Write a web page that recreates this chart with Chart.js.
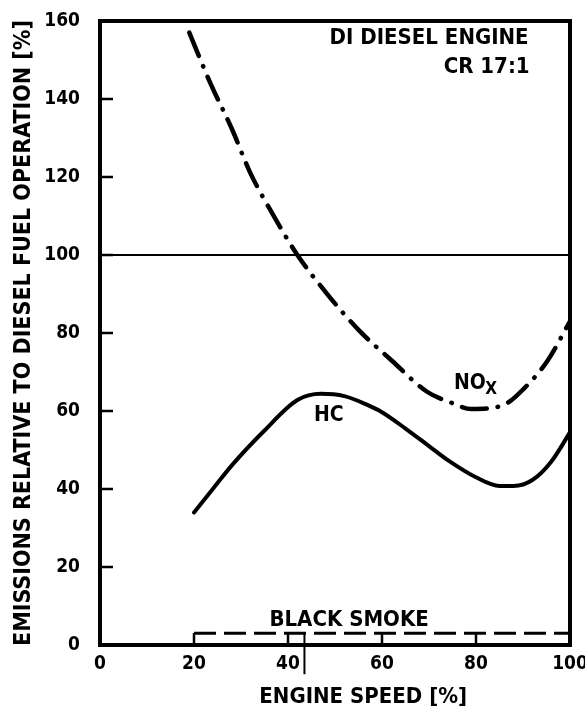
<!DOCTYPE html>
<html>
<head>
<meta charset="utf-8">
<script src="https://cdn.jsdelivr.net/npm/chart.js@4/dist/chart.umd.min.js"></script>
<style>
  body { margin: 0; background: #fff; }
  #wrap { width: 585px; height: 708px; }
</style>
</head>
<body>
<div id="wrap"><canvas id="emissionChart" width="585" height="708"></canvas></div>
<script>
// values (engine speed % -> emissions %)
var noxSpeed = [19, 23.5, 28, 32, 36.5, 42, 48, 55, 62, 69.5, 75, 79, 83, 87, 90, 95, 100];
var noxValue = [157, 144, 132.5, 121, 111, 100, 90.5, 80.8, 73, 65, 62, 60.5, 60.7, 62.3, 65.5, 72.5, 83];

var hcSpeed = [20, 24, 28, 35, 42, 47, 52, 57, 60, 65, 70, 74, 80, 85, 88, 92, 96, 100];
var hcValue = [34, 40, 46, 55, 62.8, 64.4, 63.8, 61.5, 59.7, 55.5, 51, 47.4, 43, 40.8, 40.8, 42.3, 47, 54.5];

var smokeSpeed = [20, 100];
var smokeValue = [3, 3];

var refSpeed = [0, 100];
var refValue = [100, 100];

var markSpeed = [43.5, 43.5];
var markValue = [3, -7.5];

var xTicks = [0, 20, 40, 60, 80, 100];
var yTicks = [0, 20, 40, 60, 80, 100, 120, 140, 160];

var FONT = "'DejaVu Sans Condensed', 'DejaVu Sans', sans-serif";

function pts(xs, ys) {
    return xs.map(function (x, i) { return {x: x, y: ys[i]}; });
}

var framePlugin = {
    id: "frame",
    afterDraw: function (chart) {
        var ctx = chart.ctx;
        var a = chart.chartArea;
        var xs = chart.scales.x, ys = chart.scales.y;
        ctx.save();
        ctx.strokeStyle = "#000";
        ctx.lineWidth = 4;
        ctx.strokeRect(a.left, a.top, a.right - a.left, a.bottom - a.top);
        // inward ticks
        ctx.lineWidth = 2.5;
        ctx.beginPath();
        yTicks.slice(1, -1).forEach(function (v) {
            var p = ys.getPixelForValue(v);
            ctx.moveTo(a.left, p);
            ctx.lineTo(a.left + 13, p);
        });
        xTicks.slice(1, -1).forEach(function (v) {
            var p = xs.getPixelForValue(v);
            ctx.moveTo(p, a.bottom);
            ctx.lineTo(p, a.bottom - 12);
        });
        ctx.stroke();
        // labels inside the plot
        ctx.fillStyle = "#000";
        ctx.textBaseline = "middle";
        ctx.font = "bold 22px " + FONT;
        ctx.textAlign = "right";
        ctx.fillText("DI DIESEL ENGINE", xs.getPixelForValue(91.2), ys.getPixelForValue(155.6));
        ctx.fillText("CR 17:1", xs.getPixelForValue(91.4), ys.getPixelForValue(148.2));
        ctx.textAlign = "center";
        ctx.fillText("BLACK SMOKE", xs.getPixelForValue(53), ys.getPixelForValue(6.4));
        ctx.font = "bold 21px " + FONT;
        ctx.fillText("HC", xs.getPixelForValue(48.7), ys.getPixelForValue(58.8));
        ctx.fillText("NO", xs.getPixelForValue(78.7), ys.getPixelForValue(67.1));
        ctx.font = "bold 17px " + FONT;
        ctx.fillText("X", xs.getPixelForValue(83.2), ys.getPixelForValue(65.4));
        // x-axis title (sits right of centre in the original)
        ctx.font = "bold 22px " + FONT;
        ctx.fillText("ENGINE SPEED [%]", xs.getPixelForValue(56), 697);
        ctx.restore();
    }
};

var config = {
    type: "line",
    data: {
        datasets: [
            {
                label: "NOx",
                data: pts(noxSpeed, noxValue),
                borderColor: "#000",
                borderWidth: 4.5,
                borderDash: [25, 11, 0.5, 11],
                borderCapStyle: "round",
                cubicInterpolationMode: "monotone",
                pointRadius: 0
            },
            {
                label: "HC",
                data: pts(hcSpeed, hcValue),
                borderColor: "#000",
                borderWidth: 4,
                borderCapStyle: "round",
                cubicInterpolationMode: "monotone",
                pointRadius: 0
            },
            {
                label: "Black smoke",
                data: pts(smokeSpeed, smokeValue),
                borderColor: "#000",
                borderWidth: 3,
                borderDash: [22, 8],
                pointRadius: 0
            },
            {
                label: "Diesel reference",
                data: pts(refSpeed, refValue),
                borderColor: "#000",
                borderWidth: 1.8,
                pointRadius: 0
            },
            {
                label: "mark",
                data: pts(markSpeed, markValue),
                borderColor: "#000",
                borderWidth: 2,
                pointRadius: 0,
                clip: false
            }
        ]
    },
    options: {
        responsive: false,
        animation: false,
        layout: {padding: {top: 21, right: 15, left: 0, bottom: 0}},
        plugins: {legend: {display: false}, tooltip: {enabled: false}},
        scales: {
            x: {
                type: "linear",
                min: 0,
                max: 100,
                afterFit: function (s) {
                    s.height = 63;
                    s.paddingLeft = 0;
                    s.paddingRight = 0;
                },
                afterBuildTicks: function (s) { s.ticks = xTicks.map(function (v) { return {value: v}; }); },
                grid: {display: false},
                border: {display: false},
                ticks: {color: "#000", padding: 0, maxRotation: 0, font: {family: FONT, size: 19, weight: "bold"}},
                title: {display: false}
            },
            y: {
                min: 0,
                max: 160,
                afterFit: function (s) {
                    s.width = 100;
                    s.paddingTop = 0;
                    s.paddingBottom = 0;
                },
                afterBuildTicks: function (s) { s.ticks = yTicks.map(function (v) { return {value: v}; }); },
                grid: {display: false},
                border: {display: false},
                ticks: {color: "#000", padding: 12, font: {family: FONT, size: 19, weight: "bold"}},
                title: {
                    display: true,
                    text: "EMISSIONS RELATIVE TO DIESEL FUEL OPERATION [%]",
                    color: "#000",
                    padding: {top: 13, bottom: 0},
                    font: {family: FONT, size: 23, weight: "bold", lineHeight: 1}
                }
            }
        }
    },
    plugins: [framePlugin]
};

var EmissionChart = new Chart(document.getElementById("emissionChart"), config);
</script>
</body>
</html>
